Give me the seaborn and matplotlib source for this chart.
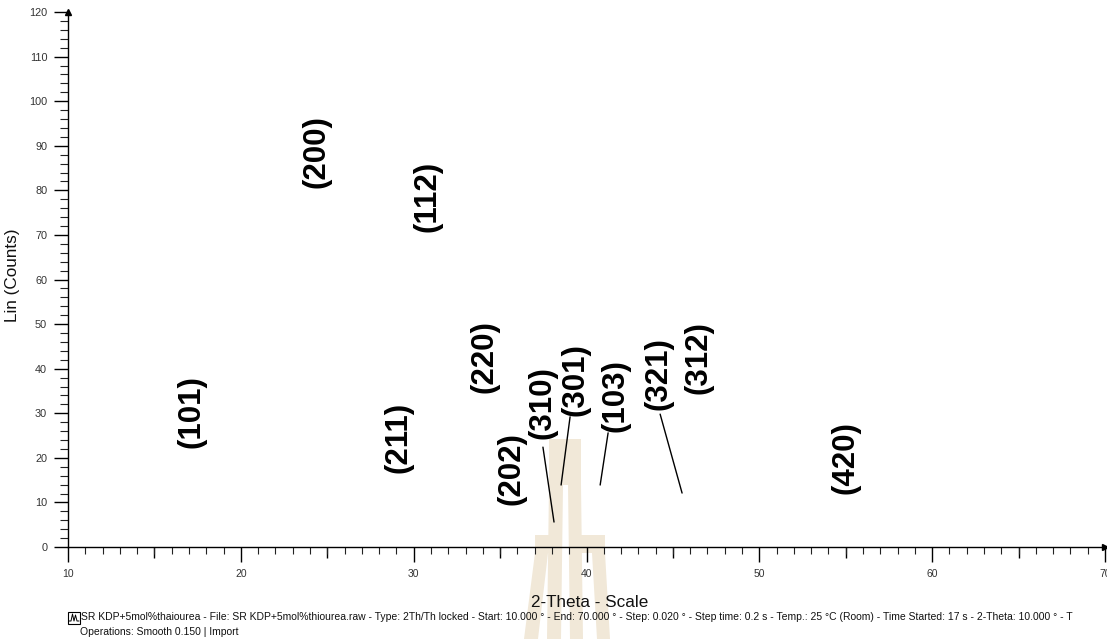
import numpy as np
import pandas as pd
import matplotlib
matplotlib.use("Agg")
import matplotlib.pyplot as plt
from matplotlib.patches import Polygon, Rectangle
from matplotlib.lines import Line2D
from matplotlib.ticker import MultipleLocator
import seaborn as sns

# Miller indices of the indexed reflections and where each label sits (2θ, counts)
hkl_labels = ["(101)", "(200)", "(112)", "(211)", "(220)", "(202)",
              "(310)", "(301)", "(103)", "(321)", "(312)", "(420)"]
label_2theta = [17.12, 24.35, 30.78, 29.10, 34.07, 35.64,
                37.43, 39.34, 41.66, 44.14, 46.46, 54.97]
label_counts = [30.3, 88.8, 78.7, 24.5, 42.8, 17.5,
                32.5, 37.5, 33.9, 38.8, 42.4, 20.0]

# Leader lines joining crowded labels to their reflections
leader_hkl = ["(310)", "(301)", "(103)", "(321)"]
leader_2theta_start = [37.48, 39.05, 41.25, 44.26]
leader_counts_start = [22.4, 29.2, 25.6, 29.8]
leader_2theta_end = [38.12, 38.53, 40.79, 45.53]
leader_counts_end = [5.6, 13.9, 13.9, 12.1]

x_limits = [10, 70]
y_limits = [0, 120]

scan_info = ("SR KDP+5mol%thaiourea - File: SR KDP+5mol%thiourea.raw - Type: 2Th/Th locked - "
             "Start: 10.000 ° - End: 70.000 ° - Step: 0.020 ° - Step time: 0.2 s - "
             "Temp.: 25 °C (Room) - Time Started: 17 s - 2-Theta: 10.000 ° - T")
operations_info = "Operations: Smooth 0.150 | Import"

sns.set_style("white")
plt.rcParams["font.family"] = ["Liberation Sans", "DejaVu Sans"]

W, H = 1107, 639
fig = plt.figure(figsize=(W / 100, H / 100), dpi=100)
fig.patch.set_facecolor("white")


def fx(px):
    return px / W


def fy(py):
    return 1 - py / H


# faint emblem printed behind the page
emblem_color = "#F1E8D8"
emblem_shapes = [
    [(549, 439), (581, 439), (581, 485), (549, 485)],
    [(549, 485), (563, 485), (561, 639), (547, 639)],
    [(568, 485), (581, 485), (583, 639), (570, 639)],
    [(535, 535), (549, 535), (549, 553), (535, 553)],
    [(535, 553), (548, 553), (538, 639), (524, 639)],
    [(581, 535), (605, 535), (605, 553), (581, 553)],
    [(592, 553), (605, 553), (610, 639), (597, 639)],
]
for shape in emblem_shapes:
    fig.add_artist(Polygon([(fx(x), fy(y)) for x, y in shape], closed=True,
                           transform=fig.transFigure, facecolor=emblem_color,
                           edgecolor="none", zorder=-5))

ax = fig.add_axes([fx(68), fy(547), fx(1105) - fx(68), fy(12) - fy(547)])
ax.set_facecolor("none")
ax.set_xlim(*x_limits)
ax.set_ylim(*y_limits)

# leader lines
leaders = pd.DataFrame({
    "hkl": leader_hkl * 2,
    "two_theta": leader_2theta_start + leader_2theta_end,
    "counts": leader_counts_start + leader_counts_end,
})
sns.lineplot(data=leaders, x="two_theta", y="counts", units="hkl", estimator=None,
             sort=False, color="black", linewidth=1.0, legend=False, ax=ax)

# reflection labels
for lab, xv, yv in zip(hkl_labels, label_2theta, label_counts):
    ax.text(xv, yv, lab, rotation=90, ha="center", va="center",
            fontsize=22.5, fontweight="bold", color="black")

# axes styling
for side in ("top", "right"):
    ax.spines[side].set_visible(False)
for side in ("left", "bottom"):
    ax.spines[side].set_color("black")
    ax.spines[side].set_linewidth(1.0)

ax.xaxis.set_major_locator(MultipleLocator(10))
ax.xaxis.set_minor_locator(MultipleLocator(1))
ax.yaxis.set_major_locator(MultipleLocator(10))
ax.yaxis.set_minor_locator(MultipleLocator(2))
ax.tick_params(which="both", bottom=True, left=True, top=False, right=False)
ax.tick_params(axis="x", which="major", direction="out", length=11, width=1,
               color="black", labelsize=7.5, labelcolor="#333333", pad=5)
ax.tick_params(axis="x", which="minor", direction="out", length=5, width=0.8, color="#222222")
ax.tick_params(axis="y", which="major", direction="out", length=10, width=1,
               color="black", labelsize=7.8, labelcolor="#333333", pad=5)
ax.tick_params(axis="y", which="minor", direction="out", length=6, width=0.8, color="#222222")

# intermediate ticks at the half decades
mid = ax.secondary_xaxis("bottom")
mid.set_xticks(np.arange(15, 70, 10))
mid.tick_params(bottom=True, length=8, width=1, color="black", labelbottom=False)
for sp in mid.spines.values():
    sp.set_visible(False)

ax.set_xlabel("2-Theta - Scale", fontsize=12.3, color="#111111")
ax.xaxis.set_label_coords((590 - 68) / 1037, (547 - 595) / 535)
ax.set_ylabel("Lin (Counts)", fontsize=12.3, color="#111111")
ax.yaxis.set_label_coords((20 - 68) / 1037, (547 - 275) / 535)

# arrowheads at the axis ends
ax.plot([1], [0], marker=">", markersize=5, color="black", transform=ax.transAxes,
        clip_on=False, linestyle="none")
ax.plot([0], [1], marker="^", markersize=5, color="black", transform=ax.transAxes,
        clip_on=False, linestyle="none")

# scan description underneath
fig.add_artist(Rectangle((fx(68), fy(624)), fx(12), fy(612) - fy(624),
                         transform=fig.transFigure, facecolor="white",
                         edgecolor="black", linewidth=0.8))
wave_x = [69, 71, 72.5, 74, 75.5, 77, 79]
wave_y = [621, 621, 614, 621, 615, 621, 621]
fig.add_artist(Line2D([fx(v) for v in wave_x], [fy(v) for v in wave_y],
                      transform=fig.transFigure, color="black", linewidth=0.7))
fig.text(fx(81), fy(617), scan_info, fontsize=7.47, color="#111111",
         ha="left", va="center")
fig.text(fx(80), fy(632), operations_info, fontsize=7.47, color="#111111",
         ha="left", va="center")

fig.savefig("out.png", dpi=100, facecolor="white")
